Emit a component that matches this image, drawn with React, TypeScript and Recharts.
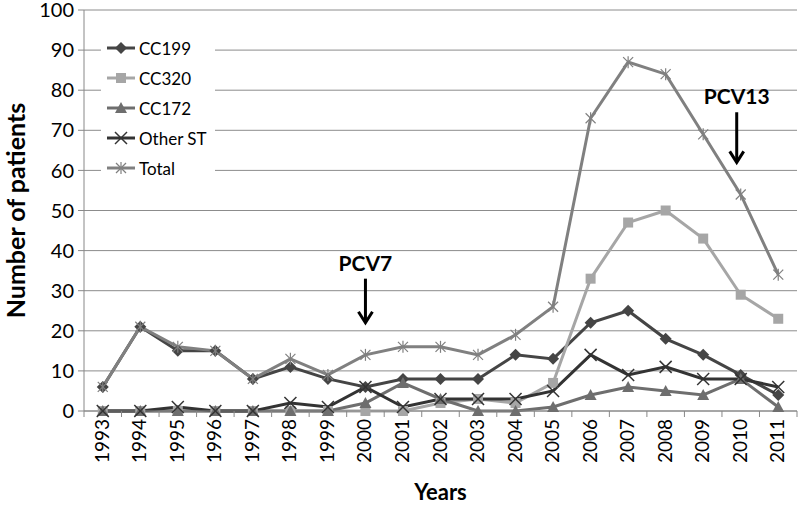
import React from 'react';
import {
  LineChart,
  Line,
  XAxis,
  YAxis,
  CartesianGrid,
  Legend,
  ReferenceLine,
} from 'recharts';

// Patients per year by clonal complex
const years = [
  '1993', '1994', '1995', '1996', '1997', '1998', '1999', '2000', '2001', '2002',
  '2003', '2004', '2005', '2006', '2007', '2008', '2009', '2010', '2011',
];
const cc199 = [6, 21, 15, 15, 8, 11, 8, 6, 8, 8, 8, 14, 13, 22, 25, 18, 14, 9, 4];
const cc320 = [0, 0, 0, 0, 0, 0, 0, 0, 0, 2, 3, 2, 7, 33, 47, 50, 43, 29, 23];
const cc172 = [0, 0, 0, 0, 0, 0, 0, 2, 7, 3, 0, 0, 1, 4, 6, 5, 4, 8, 1];
const otherST = [0, 0, 1, 0, 0, 2, 1, 6, 1, 3, 3, 3, 5, 14, 9, 11, 8, 8, 6];
const total = [6, 21, 16, 15, 8, 13, 9, 14, 16, 16, 14, 19, 26, 73, 87, 84, 69, 54, 34];
const yTicks = [0, 10, 20, 30, 40, 50, 60, 70, 80, 90, 100];

const FONT = 'Lato, "Liberation Sans", sans-serif';
const HALF_STEP = 18.76;

type Marker = 'diamond' | 'square' | 'triangle' | 'cross' | 'star';

const series: { key: string; label: string; color: string; marker: Marker }[] = [
  { key: 'cc199', label: 'CC199', color: '#454545', marker: 'diamond' },
  { key: 'cc320', label: 'CC320', color: '#a6a6a6', marker: 'square' },
  { key: 'cc172', label: 'CC172', color: '#6e6e6e', marker: 'triangle' },
  { key: 'other', label: 'Other ST', color: '#333333', marker: 'cross' },
  { key: 'total', label: 'Total', color: '#808080', marker: 'star' },
];

const data = years.map((year, i) => ({
  year,
  cc199: cc199[i],
  cc320: cc320[i],
  cc172: cc172[i],
  other: otherST[i],
  total: total[i],
}));

function markerShape(marker: Marker, cx: number, cy: number, color: string) {
  switch (marker) {
    case 'diamond':
      return <polygon points={`${cx},${cy - 6} ${cx + 6},${cy} ${cx},${cy + 6} ${cx - 6},${cy}`} fill={color} />;
    case 'square':
      return <rect x={cx - 5} y={cy - 5} width={10} height={10} fill={color} />;
    case 'triangle':
      return <polygon points={`${cx},${cy - 6} ${cx + 6},${cy + 5} ${cx - 6},${cy + 5}`} fill={color} />;
    case 'cross':
      return (
        <g stroke={color} strokeWidth={1.5}>
          <line x1={cx - 6} y1={cy - 6} x2={cx + 6} y2={cy + 6} />
          <line x1={cx - 6} y1={cy + 6} x2={cx + 6} y2={cy - 6} />
        </g>
      );
    default:
      return (
        <g stroke={color} strokeWidth={1.2}>
          <line x1={cx - 5} y1={cy - 5} x2={cx + 5} y2={cy + 5} />
          <line x1={cx - 5} y1={cy + 5} x2={cx + 5} y2={cy - 5} />
          <line x1={cx} y1={cy - 6} x2={cx} y2={cy + 6} />
        </g>
      );
  }
}

function makeDot(marker: Marker, color: string) {
  return (props: any) => {
    const { cx, cy, index } = props;
    return <g key={`${marker}-${index}`}>{markerShape(marker, cx, cy, color)}</g>;
  };
}

function YearTick(props: any) {
  const { x, y, payload } = props;
  const axisY = y;
  return (
    <g>
      <line x1={x - HALF_STEP} y1={axisY} x2={x - HALF_STEP} y2={axisY + 6} stroke="#888" />
      {payload.value === years[years.length - 1] && (
        <line x1={x + HALF_STEP} y1={axisY} x2={x + HALF_STEP} y2={axisY + 6} stroke="#888" />
      )}
      <text
        transform={`translate(${x + 6},${axisY + 8}) rotate(-90)`}
        textAnchor="end"
        fontSize={19}
        fontFamily={FONT}
        fill="#000"
      >
        {payload.value}
      </text>
    </g>
  );
}

function LegendBox() {
  return (
    <div style={{ background: '#fff', width: 114, padding: '0', fontFamily: FONT }}>
      {series.map((s) => (
        <div key={s.key} style={{ display: 'flex', alignItems: 'center', height: 30 }}>
          <svg width={36} height={16} style={{ display: 'block' }}>
            <line x1={6} y1={8} x2={34} y2={8} stroke={s.color} strokeWidth={3} />
            {markerShape(s.marker, 20, 8, s.color)}
          </svg>
          <span style={{ fontSize: 17, color: '#000', marginLeft: 2 }}>{s.label}</span>
        </div>
      ))}
    </div>
  );
}

function arrowShape(label: string, dx: number) {
  return (props: any) => {
    const { x1, y1, x2, y2 } = props;
    const x = (x1 ?? 0) + dx;
    const top = Math.min(y1, y2);
    const tip = Math.max(y1, y2);
    return (
      <g>
        <text
          x={x}
          y={top - 8}
          textAnchor="middle"
          fontSize={21}
          fontWeight="bold"
          fontFamily={FONT}
          fill="#000"
        >
          {label}
        </text>
        <line x1={x} y1={top} x2={x} y2={tip - 1} stroke="#000" strokeWidth={3} />
        <polyline
          points={`${x - 7},${tip - 11} ${x},${tip} ${x + 7},${tip - 11}`}
          fill="none"
          stroke="#000"
          strokeWidth={3}
        />
      </g>
    );
  };
}

export default function App() {
  return (
    <div style={{ position: 'absolute', left: 0, top: 0, width: 800, height: 510, background: '#fff' }}>
      <LineChart
        width={800}
        height={510}
        data={data}
        margin={{ top: 10, right: 3, left: 0, bottom: 0 }}
      >
        <CartesianGrid vertical={false} stroke="#8c8c8c" />
        <XAxis
          dataKey="year"
          height={99}
          padding={{ left: HALF_STEP, right: HALF_STEP }}
          stroke="#888"
          tickLine={false}
          tickSize={0}
          tickMargin={0}
          interval={0}
          tick={<YearTick />}
          label={{
            value: 'Years',
            position: 'insideBottom',
            offset: 10,
            fontSize: 22,
            fontWeight: 'bold',
            fontFamily: FONT,
            fill: '#000',
          }}
        />
        <YAxis
          width={84}
          domain={[0, 100]}
          ticks={yTicks}
          interval={0}
          stroke="#888"
          tickSize={6}
          tickMargin={4}
          tick={{ fontSize: 20, fontFamily: FONT, fill: '#000' }}
          label={{
            value: 'Number of patients',
            angle: -90,
            position: 'insideLeft',
            offset: 16,
            style: { textAnchor: 'middle' },
            fontSize: 25,
            fontWeight: 'bold',
            fontFamily: FONT,
            fill: '#000',
          }}
        />
        <Legend
          layout="vertical"
          verticalAlign="middle"
          align="center"
          content={() => <LegendBox />}
          wrapperStyle={{ left: 101, top: 33, width: 114 }}
        />
        {series.map((s) => (
          <Line
            key={s.key}
            type="linear"
            dataKey={s.key}
            name={s.label}
            stroke={s.color}
            strokeWidth={3}
            dot={makeDot(s.marker, s.color)}
            activeDot={false}
            isAnimationActive={false}
          />
        ))}
        <ReferenceLine
          segment={[{ x: '2000', y: 33 }, { x: '2000', y: 22 }]}
          shape={arrowShape('PCV7', 0)}
          ifOverflow="visible"
        />
        <ReferenceLine
          segment={[{ x: '2010', y: 74.5 }, { x: '2010', y: 62 }]}
          shape={arrowShape('PCV13', -4)}
          ifOverflow="visible"
        />
      </LineChart>
    </div>
  );
}
